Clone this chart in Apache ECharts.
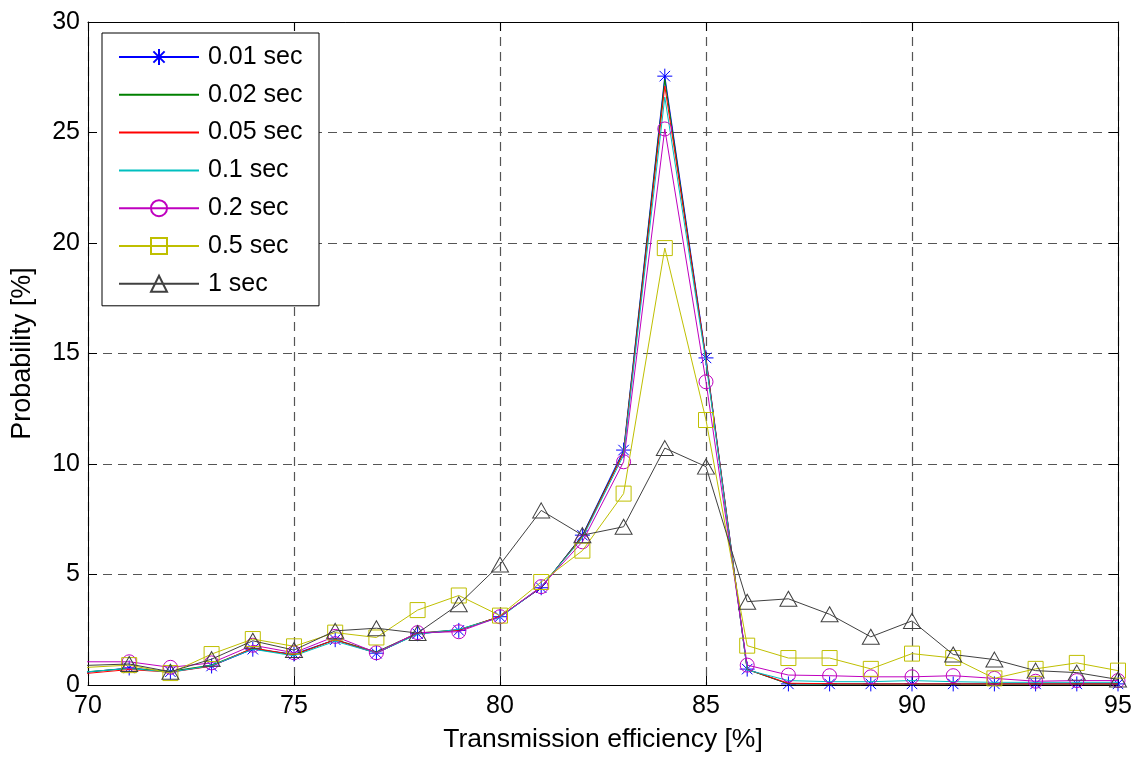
<!DOCTYPE html>
<html>
<head>
<meta charset="utf-8">
<script src="https://cdn.jsdelivr.net/npm/echarts@6/dist/echarts.min.js"></script>
<style>
  html, body { margin: 0; padding: 0; background: #fff; }
  #chart { width: 1140px; height: 758px; }
</style>
</head>
<body>
<div id="chart"></div>
<script>
// Transmission efficiency bins [%] (first bin lies just left of the visible range)
const efficiency = [69, 71, 72, 73, 74, 75, 76, 77, 78, 79, 80, 81, 82, 83, 84, 85, 86, 87, 88, 89, 90, 91, 92, 93, 94, 95];

// Probability [%] per sampling interval
const p001 = [0.40, 0.77, 0.60, 0.86, 1.62, 1.40, 2.05, 1.44, 2.32, 2.47, 3.09, 4.40, 6.78, 10.63, 27.55, 14.80, 0.72, 0.05, 0.05, 0.05, 0.05, 0.05, 0.05, 0.05, 0.05, 0.05];
const p002 = [0.45, 0.75, 0.62, 0.90, 1.65, 1.36, 2.05, 1.50, 2.35, 2.50, 3.10, 4.42, 6.75, 10.55, 27.40, 14.70, 0.70, 0.05, 0.04, 0.04, 0.04, 0.04, 0.04, 0.04, 0.04, 0.04];
const p005 = [0.36, 0.70, 0.58, 0.85, 1.68, 1.36, 2.05, 1.44, 2.33, 2.48, 3.10, 4.42, 6.70, 10.50, 27.10, 14.75, 0.70, 0.08, 0.06, 0.05, 0.05, 0.05, 0.05, 0.05, 0.05, 0.05];
const p01  = [0.45, 0.75, 0.58, 0.88, 1.62, 1.32, 1.98, 1.45, 2.30, 2.52, 3.05, 4.45, 6.65, 10.40, 26.60, 14.60, 0.68, 0.20, 0.15, 0.15, 0.20, 0.15, 0.12, 0.12, 0.12, 0.12];
const p02  = [1.05, 1.05, 0.80, 1.00, 1.80, 1.46, 2.20, 1.46, 2.37, 2.41, 3.09, 4.45, 6.48, 10.10, 25.16, 13.72, 0.90, 0.45, 0.42, 0.37, 0.37, 0.42, 0.30, 0.17, 0.20, 0.20];
const p05  = [0.70, 0.90, 0.54, 1.40, 2.08, 1.75, 2.37, 2.15, 3.39, 4.05, 3.14, 4.66, 6.08, 8.66, 19.77, 11.99, 1.78, 1.22, 1.22, 0.73, 1.42, 1.22, 0.30, 0.73, 1.00, 0.65];
const p1   = [0.83, 0.95, 0.60, 1.17, 2.00, 1.58, 2.45, 2.57, 2.35, 3.65, 5.45, 7.90, 6.78, 7.16, 10.72, 9.88, 3.77, 3.90, 3.20, 2.18, 2.90, 1.38, 1.15, 0.65, 0.56, 0.25];

const seriesNames = ['0.01 sec', '0.02 sec', '0.05 sec', '0.1 sec', '0.2 sec', '0.5 sec', '1 sec'];
const seriesValues = [p001, p002, p005, p01, p02, p05, p1];

const xTicks = [70, 75, 80, 85, 90, 95];
const yTicks = [0, 5, 10, 15, 20, 25, 30];

// Line colours and marker shapes (null = plain line, no marker)
const colors = ['#0000ff', '#008000', '#ff0000', '#00bfbf', '#bf00bf', '#bfbf00', '#404040'];
const ASTERISK = 'path://M-1,0L1,0M0,-1L0,1M-0.7,-0.7L0.7,0.7M-0.7,0.7L0.7,-0.7';
const markers = [
  { symbol: ASTERISK, size: 15 },
  null,
  null,
  null,
  { symbol: 'circle', size: 14 },
  { symbol: 'rect', size: 15 },
  { symbol: 'triangle', size: [17, 15] }
];

const FONT = '"Liberation Sans", Arial, Helvetica, sans-serif';
const GRID = { left: 88, top: 22, right: 22, bottom: 73 };

const series = seriesNames.map((name, i) => {
  const m = markers[i];
  return {
    name,
    type: 'line',
    xAxisIndex: 0,
    yAxisIndex: 0,
    data: efficiency.map((x, k) => [x, seriesValues[i][k]]),
    symbol: m ? m.symbol : 'circle',
    showSymbol: !!m,
    symbolSize: m ? m.size : 1,
    clip: true,
    lineStyle: { color: colors[i], width: 1 },
    // hollow markers; plain lines get an invisible marker so the legend shows only the line
    itemStyle: { color: 'rgba(0,0,0,0)', borderColor: m ? colors[i] : 'rgba(0,0,0,0)', borderWidth: 1 },
    emphasis: { disabled: true },
    z: 2 + i
  };
});

const chart = echarts.init(document.getElementById('chart'), null, { renderer: 'canvas' });

const dashed = { show: true, lineStyle: { color: '#555', width: 1.2, type: [9, 6] } };

chart.setOption({
  animation: false,
  backgroundColor: '#ffffff',
  textStyle: { fontFamily: FONT },
  grid: { left: GRID.left, top: GRID.top, right: GRID.right, bottom: GRID.bottom, containLabel: false },
  legend: {
    data: seriesNames,
    orient: 'vertical',
    left: 102,
    top: 33,
    padding: [11.5, 16.5, 9.5, 16],
    itemWidth: 80,
    itemHeight: 20,
    itemGap: 12.8,
    backgroundColor: '#ffffff',
    borderColor: '#000000',
    borderWidth: 1,
    selectedMode: false,
    textStyle: { fontFamily: FONT, fontSize: 25, color: '#000', lineHeight: 25, padding: [0, 0, 0, 4] }
  },
  xAxis: [
    {
      type: 'value', position: 'bottom', min: 70, max: 95, interval: 5,
      name: 'Transmission efficiency [%]', nameLocation: 'middle', nameGap: 41,
      nameTextStyle: { fontFamily: FONT, fontSize: 26.5, color: '#000' },
      axisLine: { show: true, onZero: false, lineStyle: { color: '#000', width: 1 } },
      axisTick: { show: true, inside: true, length: 9, lineStyle: { color: '#000' } },
      axisLabel: { fontFamily: FONT, fontSize: 25, color: '#000', margin: 9,
        formatter: v => xTicks.includes(v) ? String(v) : '' },
      splitLine: dashed
    },
    {
      type: 'value', position: 'top', min: 70, max: 95, interval: 5,
      axisLine: { show: true, onZero: false, lineStyle: { color: '#000', width: 1 } },
      axisTick: { show: true, inside: true, length: 9, lineStyle: { color: '#000' } },
      axisLabel: { show: false },
      splitLine: { show: false }
    }
  ],
  yAxis: [
    {
      type: 'value', position: 'left', min: 0, max: 30, interval: 5,
      name: 'Probability [%]', nameLocation: 'middle', nameGap: 52,
      nameTextStyle: { fontFamily: FONT, fontSize: 27, color: '#000' },
      axisLine: { show: true, onZero: false, lineStyle: { color: '#000', width: 1 } },
      axisTick: { show: true, inside: true, length: 9, lineStyle: { color: '#000' } },
      axisLabel: { fontFamily: FONT, fontSize: 25, color: '#000', margin: 8,
        formatter: v => yTicks.includes(v) ? String(v) : '' },
      splitLine: dashed
    },
    {
      type: 'value', position: 'right', min: 0, max: 30, interval: 5,
      axisLine: { show: true, onZero: false, lineStyle: { color: '#000', width: 1 } },
      axisTick: { show: true, inside: true, length: 9, lineStyle: { color: '#000' } },
      axisLabel: { show: false },
      splitLine: { show: false }
    }
  ],
  series
});
</script>
</body>
</html>
